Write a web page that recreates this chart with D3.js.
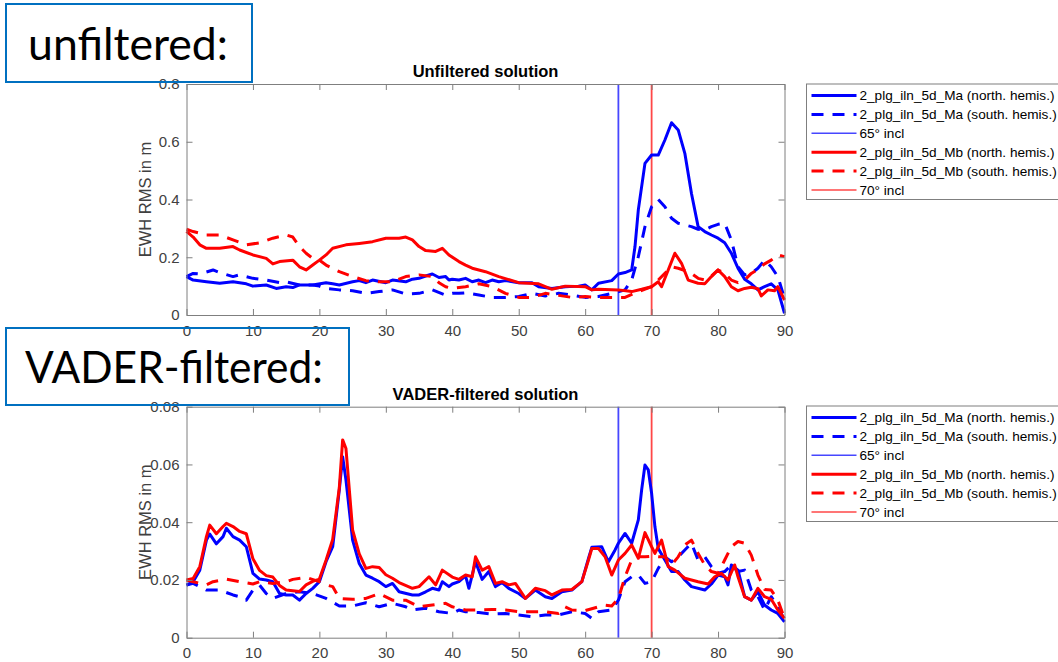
<!DOCTYPE html>
<html>
<head>
<meta charset="utf-8">
<script src="https://cdn.jsdelivr.net/npm/d3@7"></script>
<style>
  body { margin: 0; background: #fff; }
  svg { display: block; }
</style>
</head>
<body>
<svg id="chart" width="1058" height="662"></svg>
<script>
// ---- data: [inclination in degrees, EWH RMS in m] ----
const degTicks = [0, 10, 20, 30, 40, 50, 60, 70, 80, 90];
const topYTicks = [0, 0.2, 0.4, 0.6, 0.8];
const topYLabels = ["0", "0.2", "0.4", "0.6", "0.8"];
const botYTicks = [0, 0.02, 0.04, 0.06, 0.08];
const botYLabels = ["0", "0.02", "0.04", "0.06", "0.08"];
const inclLines = [65, 70];
const panelTitles = ["Unfiltered solution", "VADER-filtered solution"];
const boxLabels = ["unfiltered:", "VADER-filtered:"];
const yLabel = "EWH RMS in m";
const legendLabels = [
  "2_plg_iln_5d_Ma (north. hemis.)",
  "2_plg_iln_5d_Ma (south. hemis.)",
  "65\u00b0 incl",
  "2_plg_iln_5d_Mb (north. hemis.)",
  "2_plg_iln_5d_Mb (south. hemis.)",
  "70\u00b0 incl"
];

// unfiltered solution
const unfMaNorth = [[0,0.133],[1,0.121],[3,0.115],[5,0.11],[7,0.115],[9,0.108],[10,0.1],[12,0.104],[13.5,0.092],[15,0.098],[16,0.095],[17,0.104],[19,0.104],[21,0.112],[22,0.108],[23,0.104],[25,0.115],[26,0.119],[27,0.112],[28,0.121],[30,0.112],[31,0.121],[33,0.115],[34,0.124],[35,0.127],[36,0.135],[37,0.142],[38,0.13],[39,0.133],[39.5,0.121],[40,0.124],[41,0.121],[42,0.127],[43,0.115],[44,0.121],[45,0.112],[46,0.121],[47,0.115],[48,0.119],[50,0.112],[52,0.112],[53,0.098],[55,0.092],[57,0.098],[59,0.1],[60,0.104],[61,0.087],[62,0.11],[64,0.119],[65,0.142],[66,0.147],[67,0.156],[67.5,0.237],[68,0.364],[69,0.525],[70,0.554],[71,0.554],[72,0.606],[73,0.666],[74,0.641],[75,0.56],[76,0.421],[77,0.306],[78,0.289],[79,0.277],[80,0.266],[81,0.25],[82,0.214],[83,0.162],[84,0.124],[85,0.108],[86,0.087],[87,0.098],[88,0.108],[89,0.087],[90,0.006]];
const unfMaSouth = [[0,0.133],[1,0.144],[2,0.142],[4,0.156],[5,0.147],[7,0.133],[8,0.139],[10,0.127],[12,0.121],[14,0.112],[15,0.115],[17,0.104],[19,0.104],[20,0.1],[21,0.092],[23,0.087],[25,0.084],[27,0.075],[29,0.081],[31,0.087],[33,0.073],[35,0.075],[37,0.087],[39,0.069],[40,0.075],[41,0.075],[42,0.077],[44,0.069],[46,0.061],[48,0.061],[50,0.064],[52,0.075],[54,0.066],[56,0.075],[58,0.069],[60,0.061],[62,0.064],[64,0.075],[66,0.087],[67,0.121],[68,0.202],[69,0.306],[70,0.375],[71,0.4],[72,0.375],[73,0.335],[74,0.318],[75,0.312],[76,0.306],[77,0.297],[78,0.295],[79,0.306],[80,0.314],[81,0.318],[82,0.26],[83,0.167],[84,0.139],[85,0.144],[86,0.162],[87,0.19],[88,0.167],[89,0.133],[90,0.058]];
const unfMbNorth = [[0,0.29],[1,0.27],[2,0.243],[3,0.231],[5,0.231],[7,0.237],[8,0.225],[10,0.208],[12,0.196],[13,0.177],[14,0.185],[16,0.19],[17,0.167],[18,0.156],[19,0.173],[20,0.19],[21,0.208],[22,0.231],[24,0.243],[26,0.248],[28,0.254],[30,0.266],[32,0.266],[33,0.27],[34,0.26],[35,0.237],[36,0.223],[37.5,0.22],[38.5,0.231],[39.5,0.208],[41,0.185],[42,0.173],[43,0.162],[45,0.15],[47,0.133],[50,0.112],[53,0.108],[55,0.089],[57,0.1],[60,0.098],[61,0.087],[62,0.089],[65,0.087],[67,0.081],[68.5,0.089],[70,0.098],[71,0.115],[71.5,0.098],[72.5,0.156],[73.5,0.214],[74.5,0.179],[75.5,0.121],[77,0.11],[78,0.108],[79,0.133],[80,0.156],[81,0.133],[82,0.098],[83,0.084],[84,0.092],[85,0.096],[86,0.091],[86.5,0.066],[87.5,0.087],[88.5,0.084],[89,0.098],[90,0.052]];
const unfMbSouth = [[0,0.297],[1,0.289],[3,0.277],[5,0.277],[7,0.26],[9,0.243],[11,0.25],[13,0.266],[15,0.277],[16,0.27],[17,0.237],[18,0.214],[19,0.196],[20,0.19],[21,0.173],[23,0.15],[25,0.133],[27,0.119],[29,0.115],[31,0.115],[33,0.133],[35,0.139],[37,0.133],[38,0.112],[39,0.098],[40,0.092],[42,0.098],[44,0.108],[46,0.098],[48,0.075],[50,0.061],[52,0.061],[54,0.075],[56,0.068],[58,0.061],[60,0.064],[62,0.061],[64,0.061],[66,0.061],[68,0.081],[70,0.098],[71,0.121],[72,0.144],[73,0.167],[74,0.162],[75,0.154],[76,0.144],[77,0.127],[78,0.121],[79,0.135],[80,0.156],[81,0.144],[82,0.121],[83,0.112],[84,0.121],[85,0.144],[86,0.158],[87,0.177],[88,0.19],[89,0.208],[90,0.202]];

// VADER-filtered solution
const vadMaNorth = [[0,0.0182],[1,0.0194],[2,0.0234],[3,0.0338],[3.5,0.0359],[4.5,0.0325],[5.5,0.035],[6,0.0379],[7,0.035],[8,0.0338],[9,0.0315],[10,0.0223],[11,0.0203],[12,0.02],[13,0.0194],[14,0.0153],[15,0.0148],[16,0.0148],[17,0.013],[18,0.0153],[19,0.0171],[20,0.0194],[21,0.0263],[22,0.0315],[23,0.0512],[23.5,0.0627],[24,0.0546],[25,0.0338],[26,0.0257],[27,0.0217],[28,0.0206],[29,0.0194],[30,0.0177],[31,0.0188],[32,0.0159],[34,0.0148],[35,0.0148],[36,0.0159],[37,0.0171],[38,0.0165],[38.5,0.0194],[39.5,0.0177],[40,0.0186],[41,0.0194],[42,0.0214],[42.5,0.0171],[43.5,0.0263],[44.5,0.0202],[45.5,0.0229],[46.5,0.0177],[47.5,0.0191],[48.5,0.0171],[50,0.0153],[51,0.0136],[52.5,0.0165],[54,0.0142],[55,0.0136],[56.5,0.0159],[58,0.0165],[59.5,0.0194],[60.5,0.0275],[61,0.0313],[62.5,0.0315],[63.5,0.0263],[64.5,0.0304],[65,0.0327],[66,0.0361],[67,0.0327],[68,0.0408],[68.5,0.0512],[69,0.0598],[69.5,0.0581],[70,0.05],[70.5,0.0384],[71,0.0309],[72,0.0269],[73,0.0229],[74,0.0229],[75,0.02],[76,0.0177],[78,0.0165],[79,0.0186],[80,0.0217],[81,0.0211],[81.5,0.0183],[82,0.0252],[83,0.0234],[84,0.0142],[85,0.013],[86,0.0159],[87,0.0113],[88,0.0096],[89,0.0084],[90,0.0055]];
const vadMaSouth = [[0,0.0182],[1,0.0188],[3,0.0165],[5,0.0165],[7,0.0148],[8,0.0142],[9,0.013],[10,0.0165],[11,0.0182],[12,0.0153],[13,0.0136],[15,0.0153],[17,0.0159],[19,0.0153],[21,0.0136],[23,0.011],[25,0.011],[27,0.0121],[29,0.0107],[31,0.0119],[33,0.0107],[34,0.0096],[36,0.0102],[38,0.009],[40,0.0084],[41,0.0096],[42,0.009],[44,0.0087],[46,0.0082],[48,0.0084],[50,0.0079],[52,0.0073],[54,0.0079],[56,0.0079],[58,0.009],[60,0.0084],[61,0.0067],[62,0.009],[64,0.0096],[65,0.013],[66,0.0194],[67,0.0211],[68,0.0217],[69,0.0188],[70,0.0194],[71,0.024],[72,0.028],[73,0.0263],[74,0.028],[75,0.0304],[76,0.0327],[77,0.0269],[78,0.028],[79,0.0246],[80,0.0223],[81,0.0229],[82,0.0252],[83,0.0229],[84,0.0234],[85,0.0165],[86,0.0142],[87,0.0096],[88,0.0142],[89,0.0107],[90,0.0061]];
const vadMbNorth = [[0,0.02],[1,0.0205],[2,0.0246],[3,0.035],[3.5,0.039],[4.5,0.036],[5.5,0.0385],[6,0.0396],[7,0.0385],[8,0.0368],[9,0.036],[10,0.0273],[11,0.0233],[12,0.0215],[13,0.021],[14,0.0181],[15,0.0165],[17,0.016],[18,0.0183],[19,0.0195],[20,0.0203],[21,0.0268],[22,0.034],[23,0.052],[23.5,0.0685],[24,0.0655],[25,0.0373],[26,0.029],[27,0.024],[28,0.0246],[29,0.0243],[30,0.0218],[31,0.0206],[32,0.0191],[34,0.0171],[35,0.0177],[36.5,0.0211],[37.5,0.0183],[38.5,0.0234],[40,0.021],[41,0.0202],[42,0.0217],[43,0.0211],[43.5,0.028],[44.5,0.0234],[45.5,0.0246],[46.5,0.0188],[47.5,0.0194],[48.5,0.0183],[49.5,0.0188],[51,0.0136],[52.5,0.0171],[54,0.0163],[55,0.0148],[56.5,0.0165],[58,0.0167],[59.5,0.0194],[60.5,0.0269],[61,0.0309],[62,0.0309],[63,0.028],[64,0.0217],[65,0.0269],[66,0.0292],[67,0.0321],[68,0.0275],[69,0.0364],[70,0.0315],[70.5,0.0292],[71.5,0.0338],[72.5,0.0246],[73.5,0.0234],[75,0.0206],[77,0.0194],[78.5,0.0186],[79.5,0.0211],[80.5,0.0223],[81.5,0.02],[82.5,0.0252],[83,0.0211],[84,0.0142],[85,0.013],[86,0.0171],[87,0.0142],[88,0.0133],[89,0.0096],[90,0.0067]];
const vadMbSouth = [[0,0.02],[1,0.0194],[3,0.0183],[4,0.0194],[6,0.0203],[8,0.0194],[10,0.0186],[11,0.0194],[13,0.0188],[15,0.0194],[16,0.0202],[18,0.0209],[20,0.0194],[21,0.0183],[22,0.0177],[23,0.0136],[25,0.0133],[27,0.0136],[29,0.0153],[31,0.013],[33,0.013],[35,0.0107],[37,0.0113],[39,0.0119],[40,0.0107],[42,0.0096],[44,0.0096],[46,0.0098],[48,0.0096],[50,0.009],[52,0.009],[54,0.009],[56,0.0084],[57,0.0107],[58,0.0096],[60,0.0094],[62,0.0107],[63,0.0113],[64,0.011],[65,0.0136],[66,0.0211],[67,0.0269],[68,0.028],[69,0.028],[70,0.0282],[71,0.028],[72,0.028],[73,0.0252],[74,0.028],[75,0.0321],[76,0.0338],[77,0.0292],[78,0.0252],[79,0.0229],[80,0.0223],[81,0.0269],[82,0.0315],[83,0.0333],[84,0.0327],[85,0.0286],[86,0.0217],[87,0.0167],[88,0.0165],[89,0.013],[90,0.0067]];

// ---- styles ----
const BLUE = "#0000ff", RED = "#ff0000";
const BLUE_LIGHT = "#4747ff", RED_LIGHT = "#ff4747";
const AXIS_COL = "#7f7f7f", LABEL_COL = "#404040";
const FONT = "'Liberation Sans', Arial, Helvetica, sans-serif";
const DASH = "12,9";
const TICK_FS = "15px", LABEL_FS = "16.5px", LEGEND_FS = "13.6px";

const svg = d3.select("#chart");

const panels = [
  { top: 84, bottom: 315, title: panelTitles[0], yTicks: topYTicks, yLabels: topYLabels, yMax: 0.8,
    series: [unfMaNorth, unfMaSouth, unfMbNorth, unfMbSouth], legendTop: 84 },
  { top: 406.7, bottom: 637.7, title: panelTitles[1], yTicks: botYTicks, yLabels: botYLabels, yMax: 0.08,
    series: [vadMaNorth, vadMaSouth, vadMbNorth, vadMbSouth], legendTop: 406 }
];
const seriesStyle = [
  { color: BLUE, dash: null },
  { color: BLUE, dash: DASH },
  { color: RED, dash: null },
  { color: RED, dash: DASH }
];
const legendStyle = [
  { color: BLUE, dash: null, w: 3 },
  { color: BLUE, dash: DASH, w: 3 },
  { color: BLUE_LIGHT, dash: null, w: 1.5 },
  { color: RED, dash: null, w: 3 },
  { color: RED, dash: DASH, w: 3 },
  { color: RED_LIGHT, dash: null, w: 1.5 }
];

const x = d3.scaleLinear().domain([0, 90]).range([186.5, 784.5]);

panels.forEach((p, pi) => {
  const y = d3.scaleLinear().domain([0, p.yMax]).range([p.bottom, p.top]);
  const g = svg.append("g");
  const clipId = "clip" + pi;
  svg.append("clipPath").attr("id", clipId)
    .append("rect").attr("x", x(0) - 2).attr("y", p.top - 2)
    .attr("width", x(90) - x(0) + 4).attr("height", p.bottom - p.top + 4);

  // vertical inclination markers
  g.selectAll(".incl").data(inclLines).join("line")
    .attr("x1", d => x(d)).attr("x2", d => x(d))
    .attr("y1", p.top).attr("y2", p.bottom)
    .attr("stroke", (d, i) => i === 0 ? BLUE_LIGHT : RED_LIGHT)
    .attr("stroke-width", 1.8);

  // series lines
  const line = d3.line().x(d => x(d[0])).y(d => y(d[1]));
  const order = [1, 0, 3, 2];
  order.forEach(si => {
    g.append("path")
      .attr("clip-path", `url(#${clipId})`)
      .attr("d", line(p.series[si]))
      .attr("fill", "none")
      .attr("stroke", seriesStyle[si].color)
      .attr("stroke-width", 3)
      .attr("stroke-linejoin", "round")
      .attr("stroke-dasharray", seriesStyle[si].dash);
  });

  // axes (ticks inward on all four sides)
  const axB = d3.axisBottom(x).tickValues(degTicks).tickSizeInner(-6).tickSizeOuter(0).tickPadding(10);
  const axT = d3.axisTop(x).tickValues(degTicks).tickSizeInner(-6).tickSizeOuter(0).tickFormat("");
  const axL = d3.axisLeft(y).tickValues(p.yTicks).tickSizeInner(-6).tickSizeOuter(0).tickPadding(7)
    .tickFormat((d, i) => p.yLabels[i]);
  const axR = d3.axisRight(y).tickValues(p.yTicks).tickSizeInner(-6).tickSizeOuter(0).tickFormat("");

  const styleAxis = sel => {
    sel.select(".domain").attr("stroke", AXIS_COL).attr("stroke-width", 1);
    sel.selectAll(".tick line").attr("stroke", AXIS_COL).attr("stroke-width", 1);
    sel.selectAll(".tick text").attr("fill", LABEL_COL).style("font-family", FONT).style("font-size", TICK_FS);
  };
  g.append("g").attr("transform", `translate(0,${p.bottom})`).call(axB).call(styleAxis);
  g.append("g").attr("transform", `translate(0,${p.top})`).call(axT).call(styleAxis);
  g.append("g").attr("transform", `translate(${x(0)},0)`).call(axL).call(styleAxis);
  g.append("g").attr("transform", `translate(${x(90)},0)`).call(axR).call(styleAxis);
  g.selectAll(".tick text").filter(function () { return this.textContent === ""; }).remove();

  // titles
  g.append("text")
    .attr("x", (x(0) + x(90)) / 2).attr("y", p.top - 7)
    .attr("text-anchor", "middle")
    .style("font-family", FONT).style("font-size", LABEL_FS).style("font-weight", "bold")
    .attr("fill", "#000").text(p.title);

  g.append("text")
    .attr("transform", `translate(151,${(p.top + p.bottom) / 2}) rotate(-90)`)
    .attr("text-anchor", "middle")
    .style("font-family", FONT).style("font-size", LABEL_FS)
    .attr("fill", LABEL_COL).text(yLabel);

  // legend
  const lg = svg.append("g").attr("transform", `translate(806.5,${p.legendTop})`);
  lg.append("rect").attr("x", 0).attr("y", 0).attr("width", 270).attr("height", 115.5)
    .attr("fill", "#fff").attr("stroke", AXIS_COL).attr("stroke-width", 1);
  legendLabels.forEach((lab, i) => {
    const yy = 11.5 + i * 18.9;
    lg.append("line").attr("x1", 5).attr("x2", 50).attr("y1", yy).attr("y2", yy)
      .attr("stroke", legendStyle[i].color).attr("stroke-width", legendStyle[i].w)
      .attr("stroke-dasharray", legendStyle[i].dash);
    lg.append("text").attr("x", 53).attr("y", yy).attr("dy", "0.35em")
      .style("font-family", FONT).style("font-size", LEGEND_FS).attr("fill", "#000").text(lab);
  });
});

// labelled callout boxes
const boxes = [
  { x: 6, y: 4, w: 246, h: 78, tx: 28, ty: 60, tl: 200 },
  { x: 6, y: 328, w: 343, h: 77, tx: 25, ty: 383, tl: 298 }
];
boxes.forEach((b, i) => {
  svg.append("rect").attr("x", b.x).attr("y", b.y).attr("width", b.w).attr("height", b.h)
    .attr("fill", "none").attr("stroke", "#0070c0").attr("stroke-width", 2);
  svg.append("text").attr("x", b.tx).attr("y", b.ty)
    .attr("textLength", b.tl).attr("lengthAdjust", "spacingAndGlyphs")
    .style("font-family", "Lato, 'Open Sans', sans-serif").style("font-size", "44px")
    .attr("fill", "#000").text(boxLabels[i]);
});
</script>
</body>
</html>
